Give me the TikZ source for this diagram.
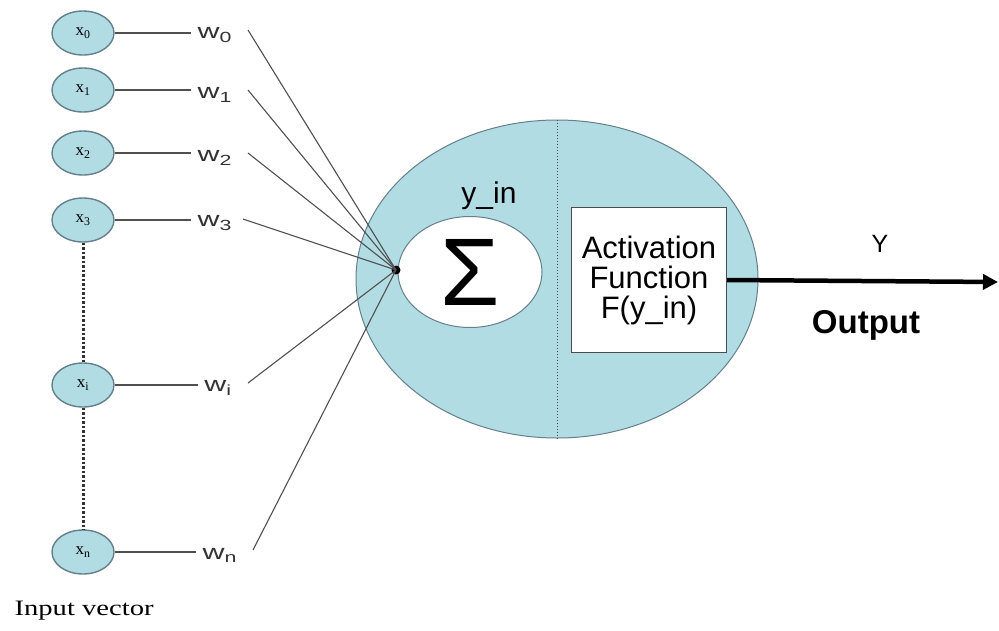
\documentclass[tikz,border=0pt]{standalone}
\usepackage{fontspec}
\setmainfont{Liberation Sans}
\newfontfamily\serifit{Liberation Serif}
\usetikzlibrary{arrows.meta,shapes.geometric}
\definecolor{cellblue}{RGB}{178,220,228}
\definecolor{edgeblue}{RGB}{100,128,138}
\definecolor{wire}{RGB}{80,80,80}
\begin{document}
\begin{tikzpicture}[x=1pt,y=-1pt,
  inp/.style={ellipse,draw=edgeblue,line width=1.4pt,fill=cellblue,minimum width=62pt,minimum height=44pt,inner sep=0pt,font=\fontsize{17}{17}\selectfont\serifit},
  wlab/.style={inner sep=1pt,font=\fontsize{21}{22}\selectfont,text=black!80,xscale=1.45},
  wire/.style={draw=wire,line width=1.1pt},
  dots/.style={draw=black!80,line width=3pt,dash pattern=on 2.5pt off 2pt}]
\useasboundingbox (0,0) rectangle (999,630);
% big neuron body
\node[ellipse,draw=edgeblue,line width=1pt,fill=cellblue,minimum width=402pt,minimum height=318pt,inner sep=0pt] (body) at (557,279) {};
\draw[draw=black!70,line width=0.8pt,dash pattern=on 1.5pt off 1.5pt] (body.north) -- (body.south);
\node[ellipse,draw=edgeblue,line width=1pt,fill=white,minimum width=144pt,minimum height=111pt,inner sep=0pt,font=\fontsize{96}{96}\selectfont] (sum) at (470,272) {Σ};
\node[font=\fontsize{30}{32}\selectfont] (yin) at (489,196) {y\_in};
\node[draw=black!70,line width=1pt,fill=white,minimum width=155pt,minimum height=145pt,inner sep=0pt,align=center,font=\fontsize{31}{30}\selectfont] (act) at (649,280) {Activation\\Function\\F(y\_in)};
\coordinate (junc) at (396,270);
\fill (junc) circle (4.5pt);
% inputs
\node[inp] (x0) at (83,33) {x\textsubscript{0}};
\node[inp] (x1) at (83,90) {x\textsubscript{1}};
\node[inp] (x2) at (83,153) {x\textsubscript{2}};
\node[inp] (x3) at (83,220) {x\textsubscript{3}};
\node[inp] (xi) at (83,385) {x\textsubscript{i}};
\node[inp] (xn) at (83,552) {x\textsubscript{n}};
\draw[dots] (x3.south) -- (xi.north);
\draw[dots] (xi.south) -- (xn.north);
% weights
\node[wlab] (w0) at (215,35) {w\textsubscript{0}};
\node[wlab] (w1) at (215,95) {w\textsubscript{1}};
\node[wlab] (w2) at (215,158) {w\textsubscript{2}};
\node[wlab] (w3) at (215,223) {w\textsubscript{3}};
\node[wlab] (wi) at (218,388) {w\textsubscript{i}};
\node[wlab] (wn) at (220,555) {w\textsubscript{n}};
\foreach \a/\b in {x0/w0,x1/w1,x2/w2,x3/w3,xi/wi,xn/wn}{
  \draw[wire,shorten >=5pt] (\a.east) -- (\b.west|-\a.east);
}
\coordinate (s0) at (248,30);
\coordinate (s1) at (248,90);
\coordinate (s2) at (248,153);
\coordinate (s3) at (243,219);
\coordinate (si) at (248,383);
\coordinate (sn) at (253,550);
\foreach \s in {s0,s1,s2,s3,si,sn}{
  \draw[wire] (\s) -- (junc);
}
% output
\draw[line width=4.5pt,-{Triangle[length=15pt,width=15pt]}] (act.east) -- (998,282) coordinate (outend);
\node[font=\fontsize{25}{28}\selectfont] (Y) at (880,244) {Y};
\node[font=\fontsize{33}{34}\selectfont\bfseries] (out) at (866,325) {Output};
\node[anchor=west,font=\fontsize{22}{22}\selectfont\serifit,xscale=1.3] (iv) at (10,611) {Input vector};
\end{tikzpicture}
\end{document}
